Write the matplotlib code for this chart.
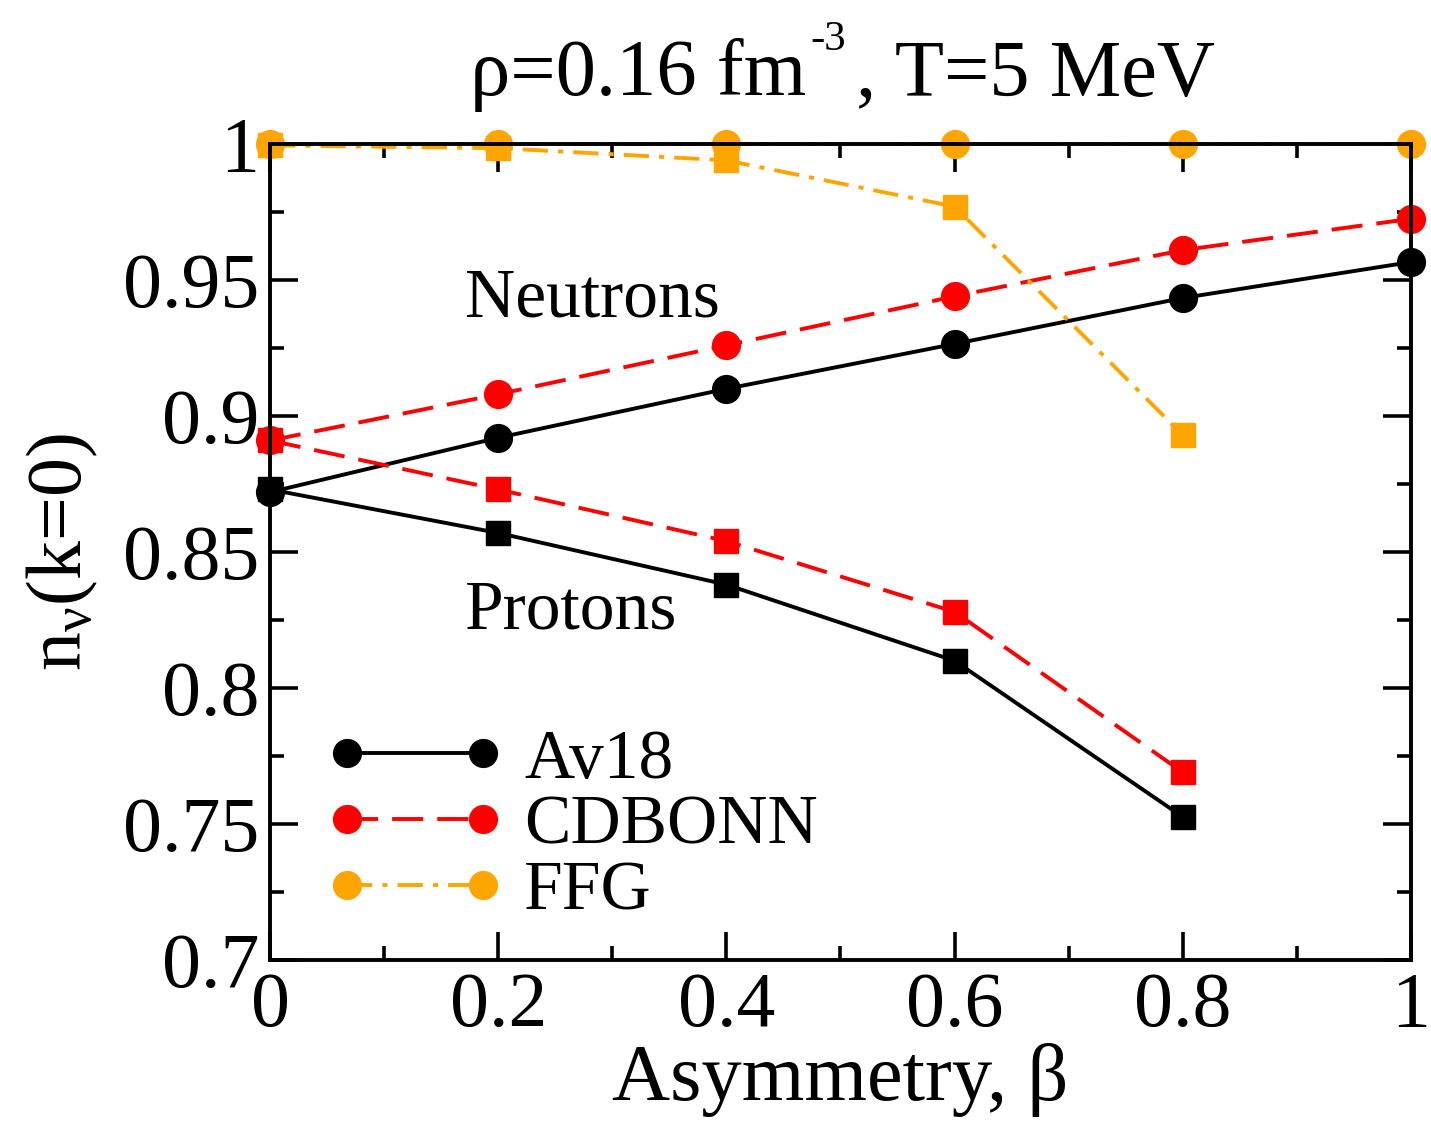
import numpy as np
from matplotlib import pyplot as plt
from matplotlib.ticker import MultipleLocator

plt.rcParams['font.family'] = ['Liberation Serif', 'DejaVu Serif']
plt.rcParams['mathtext.fontset'] = 'custom'
plt.rcParams['mathtext.rm'] = 'Liberation Serif'
plt.rcParams['mathtext.it'] = 'Liberation Serif:italic'

beta_n = [0.0, 0.2, 0.4, 0.6, 0.8, 1.0]
beta_p = [0.0, 0.2, 0.4, 0.6, 0.8]

av18_n = [0.872, 0.892, 0.910, 0.9265, 0.9434, 0.9566]
av18_p = [0.873, 0.857, 0.838, 0.810, 0.7526]
cdb_n  = [0.891, 0.908, 0.926, 0.944, 0.961, 0.9725]
cdb_p  = [0.891, 0.873, 0.854, 0.828, 0.769]
ffg_n  = [1.0, 1.0, 1.0, 1.0, 1.0, 1.0]
ffg_p  = [0.9995, 0.9985, 0.994, 0.977, 0.893]

W, H = 1431, 1127
lw = 2.8
fig = plt.figure(figsize=(W / 100, H / 100), dpi=100)
ax = fig.add_axes([0.1887, 0.1482, 0.7973, 0.724])

styles = [('black', '-', None, av18_n, av18_p, 'Av18'),
          ('red', '--', (8, 3.6), cdb_n, cdb_p, 'CDBONN'),
          ('#FFA500', '-.', (6.5, 2.6, 1.3, 2.6), ffg_n, ffg_p, 'FFG')]
handles = []
for col, ls, dash, yn, yp, lab in styles:
    kw = dict(color=col, lw=lw, linestyle=ls, clip_on=False)
    if dash is not None:
        kw['dashes'] = dash
    h, = ax.plot(beta_n, yn, marker='o', ms=20, mec=col, mfc=col, label=lab, zorder=3, **kw)
    ax.plot(beta_p, yp, marker='s', ms=17, mec=col, mfc=col, zorder=3, **kw)
    handles.append(h)

ax.set_xlim(0, 1)
ax.set_ylim(0.7, 1.0)
ax.xaxis.set_minor_locator(MultipleLocator(0.1))
ax.yaxis.set_minor_locator(MultipleLocator(0.025))
ax.set_xticks([0, 0.2, 0.4, 0.6, 0.8, 1.0])
ax.set_xticklabels(['0', '0.2', '0.4', '0.6', '0.8', '1'])
ax.set_yticks([0.7, 0.75, 0.8, 0.85, 0.9, 0.95, 1.0])
ax.set_yticklabels(['0.7', '0.75', '0.8', '0.85', '0.9', '0.95', '1'])
ax.tick_params(which='both', direction='in', top=True, right=True, width=2.6, labelsize=56)
ax.tick_params(which='major', length=20, pad=8)
ax.tick_params(which='minor', length=10)
for s in ax.spines.values():
    s.set_linewidth(2.8)
    s.set_zorder(5)

ax.set_xlabel('Asymmetry, \u03b2', fontsize=58, labelpad=0)
ax.set_ylabel('n$_{\\mathrm{\u03bd}}$(k=0)', fontsize=56, labelpad=16)

# title in three pieces so the exponent keeps a plain hyphen
fig.text(470 / W, 1 - 95 / H, '\u03c1=0.16 fm', fontsize=58, ha='left', va='baseline')
fig.text(810 / W, 1 - 50 / H, '-3', fontsize=31, ha='left', va='baseline')
fig.text(856 / W, 1 - 95 / H, ', T=5 MeV', fontsize=58, ha='left', va='baseline')

ax.text(0.171, 0.9426, 'Neutrons', fontsize=50, ha='left', va='center')
ax.text(0.171, 0.828, 'Protons', fontsize=50, ha='left', va='center')

leg = ax.legend(handles=handles, loc='lower left', bbox_to_anchor=(0.025, 0.01), numpoints=2,
                handlelength=2.55, fontsize=50, frameon=False, labelspacing=0.03, handletextpad=0.3,
                borderaxespad=0)
fig.savefig('out.png', dpi=100)
